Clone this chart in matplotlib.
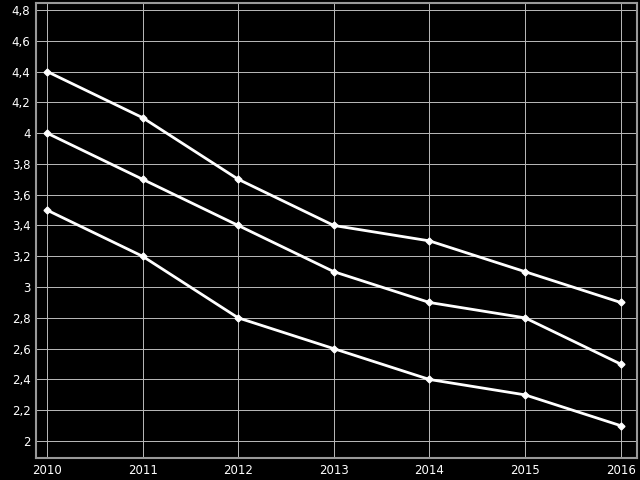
import numpy as np
import matplotlib.pyplot as plt
from matplotlib.ticker import FuncFormatter

years = [2010, 2011, 2012, 2013, 2014, 2015, 2016]
top = [4.4, 4.1, 3.7, 3.4, 3.3, 3.1, 2.9]
middle = [4.0, 3.7, 3.4, 3.1, 2.9, 2.8, 2.5]
bottom = [3.5, 3.2, 2.8, 2.6, 2.4, 2.3, 2.1]
yticks = np.round(np.arange(2.0, 4.81, 0.2), 1)

fig = plt.figure(figsize=(6.4, 4.8), dpi=100, facecolor='black')
ax = fig.add_axes([0.05625, 0.0458, 0.939, 0.948], facecolor='black')

for s in (top, middle, bottom):
    ax.plot(years, s, color='white', lw=2, marker='D', ms=3.5, zorder=3)

ax.set_xlim(2009.885, 2016.17)
ax.set_ylim(1.89, 4.845)
ax.set_xticks(years)
ax.set_yticks(yticks)
ax.yaxis.set_major_formatter(FuncFormatter(lambda v, p: ('%g' % round(v, 1)).replace('.', ',')))
ax.grid(True, color='#bbbbbb', lw=0.7)
ax.set_axisbelow(True)
ax.tick_params(colors='white', length=0, labelsize=8.5, pad=4)
for sp in ax.spines.values():
    sp.set_color('#999999')
    sp.set_linewidth(1.5)

fig.savefig('out.png', dpi=100, facecolor='black')
